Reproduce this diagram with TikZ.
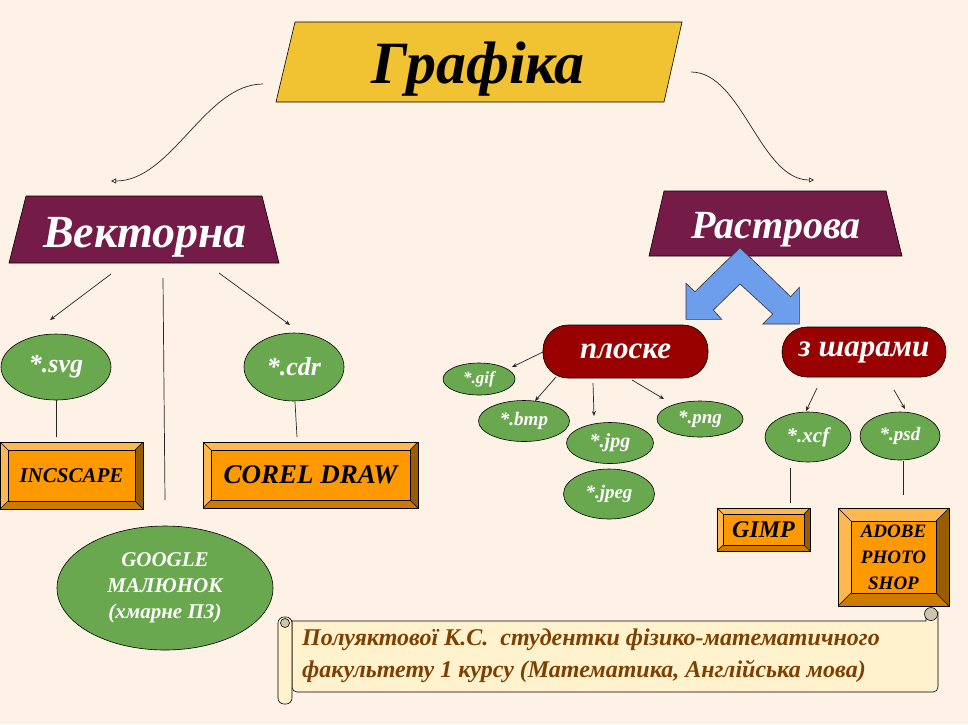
\documentclass[tikz,border=0pt]{standalone}
\usepackage{fontspec}
\setmainfont{Liberation Serif}
\usetikzlibrary{shapes.geometric,arrows.meta}
\definecolor{bg}{RGB}{254,241,229}
\definecolor{ttl}{RGB}{241,194,50}
\definecolor{plum}{RGB}{116,27,71}
\definecolor{grn}{RGB}{106,168,79}
\definecolor{dred}{RGB}{153,0,0}
\definecolor{blu}{RGB}{109,158,235}
\definecolor{orc}{RGB}{255,153,0}
\definecolor{orl}{RGB}{255,184,77}
\definecolor{orm}{RGB}{204,122,0}
\definecolor{ord}{RGB}{153,92,0}
\definecolor{scr}{RGB}{255,242,204}
\definecolor{brn}{RGB}{127,63,0}
\definecolor{curlc}{RGB}{204,196,172}

% #1 name, #2 x1, #3 y1, #4 x2, #5 y2, #6 bevel depth, #7 text, #8 font size
\newcommand{\bevelbox}[8]{%
  \fill[orl] (#2,#3) -- (#4,#3) -- ({#4-#6},{#3+#6}) -- ({#2+#6},{#3+#6}) -- cycle;
  \fill[orl] (#2,#3) -- ({#2+#6},{#3+#6}) -- ({#2+#6},{#5-#6}) -- (#2,#5) -- cycle;
  \fill[ord] (#4,#3) -- (#4,#5) -- ({#4-#6},{#5-#6}) -- ({#4-#6},{#3+#6}) -- cycle;
  \fill[orm] (#2,#5) -- (#4,#5) -- ({#4-#6},{#5-#6}) -- ({#2+#6},{#5-#6}) -- cycle;
  \node[bevin, minimum width={#4-#2-2*#6}, minimum height={#5-#3-2*#6},
        font={\bfseries\itshape\fontsize{#8}{26}\selectfont}] (#1) at ({(#2+#4)/2},{(#3+#5)/2}) {#7};
  \draw[bevline] (#2,#3) rectangle (#4,#5);
  \draw[bevline] (#2,#3) -- ({#2+#6},{#3+#6}) (#4,#3) -- ({#4-#6},{#3+#6})
                 (#4,#5) -- ({#4-#6},{#5-#6}) (#2,#5) -- ({#2+#6},{#5-#6});
}

\begin{document}
\begin{tikzpicture}[x=1pt,y=-1pt,
  shp/.style={draw=black, line width=0.6pt},
  conn/.style={draw=black!85, line width=0.7pt},
  arr/.style={conn, -{Stealth[length=5pt,width=4pt]}},
  curv/.style={conn, -{Triangle[open,length=5pt,width=5pt]}},
  ell/.style={ellipse, shp, fill=grn, text=white, inner sep=0pt,
              font={\bfseries\itshape\fontsize{#1}{26}\selectfont}, align=center},
  pill/.style={rectangle, shp, fill=dred, text=white, rounded corners=25pt, inner sep=0pt,
              font={\bfseries\itshape\fontsize{31}{36}\selectfont}},
  bevin/.style={rectangle, shp, fill=orc, inner sep=0pt, align=center},
  bevline/.style={line width=0.6pt, draw=black},
  banner/.style={inner sep=0pt, font={\bfseries\itshape\fontsize{#1}{#1}\selectfont}}
]
\fill[bg] (0,0) rectangle (968,724);
\useasboundingbox (0,0) rectangle (968,724);

% ---- title ----
\filldraw[shp, fill=ttl] (295,22) -- (682,22) -- (664,102) -- (276,102) -- cycle;
\node[banner=60, anchor=base] (title) at (478,83) {Графіка};

% ---- top level trapezoids ----
\filldraw[shp, fill=plum] (26,196) -- (262,196) -- (279,263) -- (9,263) -- cycle;
\node[banner=46, text=white, anchor=base] (vek) at (145,247) {Векторна};
\filldraw[shp, fill=plum] (664,191) -- (886,191) -- (902,256) -- (649,256) -- cycle;
\node[banner=40, text=white, anchor=base] (ras) at (776,238) {Растрова};

% curved connectors
\coordinate (tl) at (263,84);
\coordinate (tr) at (691,72);
\coordinate (vektop) at (111,181);
\coordinate (rastop) at (814,180);
\draw[curv] (tl) .. controls (205,84) and (172,181) .. (vektop);
\draw[curv] (tr) .. controls (742,72) and (760,180) .. (rastop);

% ---- blue double arrow ----
\filldraw[draw=black!80, line width=0.6pt, fill=blu]
  (740,247.7) -- (695,291.7) -- (686,283.3) -- (686,319.3) -- (721.7,319.3) -- (713.3,310)
  -- (740,284) -- (772.7,314) -- (762.7,324) -- (799.3,324) -- (799.3,287.3) -- (790.7,296.7) -- cycle;

% ---- vector branch ----
\node[ell=26, minimum width=110pt, minimum height=66pt] (svg) at (56,367) {*.svg};
\node[ell=26, minimum width=100pt, minimum height=68pt] (cdr) at (294,367) {*.cdr};
\node[ell=21, minimum width=216pt, minimum height=124pt] (goog) at (165,588)
  {GOOGLE\\МАЛЮНОК\\(хмарне ПЗ)};

\coordinate (v1) at (111,274); \coordinate (v1e) at (50,320);
\coordinate (v2) at (163,278); \coordinate (v2e) at (165,500);
\coordinate (v3) at (219,273); \coordinate (v3e) at (290,325);
\draw[arr] (v1) -- (v1e);
\draw[conn] (v2) -- (v2e);
\draw[arr] (v3) -- (v3e);

\bevelbox{inc}{0}{442}{143}{509}{8}{INCSCAPE}{21}
\bevelbox{corel}{203}{442}{418}{508}{8}{COREL DRAW}{27}

\coordinate (s1) at (56,400); \coordinate (s1e) at (56,437);
\coordinate (c1) at (295,402); \coordinate (c1e) at (297,437);
\draw[conn] (s1) -- (s1e);
\draw[conn] (c1) -- (c1e);

% ---- raster branch ----
\node[pill, minimum width=165pt, minimum height=53pt] (plo) at (625.5,351.5) {плоске};
\node[pill, minimum width=164pt, minimum height=50pt] (shar) at (864,352) {з шарами};

\node[ell=17, minimum width=72pt, minimum height=32pt] (gif) at (479,379) {*.gif};
\node[ell=19, minimum width=91pt, minimum height=41pt] (bmp) at (524,421) {*.bmp};
\node[ell=20, minimum width=87pt, minimum height=41pt] (jpg) at (610,443) {*.jpg};
\node[ell=19, minimum width=91pt, minimum height=50pt] (jpeg) at (609,494) {*.jpeg};
\node[ell=19, minimum width=86pt, minimum height=36pt] (png) at (700,419) {*.png};
\node[ell=21, minimum width=86pt, minimum height=50pt] (xcf) at (808,437) {*.xcf};
\node[ell=19, minimum width=80pt, minimum height=48pt] (psd) at (900,436) {*.psd};

\coordinate (p1) at (543,352); \coordinate (p1e) at (512,367);
\coordinate (p2) at (556,377); \coordinate (p2e) at (535,401);
\coordinate (p3) at (593,383); \coordinate (p3e) at (594,416);
\coordinate (p4) at (632,380); \coordinate (p4e) at (664,399);
\coordinate (z1) at (817,388); \coordinate (z1e) at (806,411);
\coordinate (z2) at (894,390); \coordinate (z2e) at (905,409);
\draw[arr] (p1) -- (p1e);
\draw[arr] (p2) -- (p2e);
\draw[arr] (p3) -- (p3e);
\draw[arr] (p4) -- (p4e);
\draw[arr] (z1) -- (z1e);
\draw[arr] (z2) -- (z2e);

\bevelbox{gimp}{717}{508}{810}{551}{6}{GIMP}{24}
\bevelbox{adobe}{838}{508}{949}{606}{13}{ADOBE\\PHOTO\\SHOP}{19}

\coordinate (x1) at (790,468); \coordinate (x1e) at (790,503);
\coordinate (q1) at (903,461); \coordinate (q1e) at (903,495);
\draw[conn] (x1) -- (x1e);
\draw[conn] (q1) -- (q1e);

% ---- scroll ----
\draw[shp, fill=scr] (292,621) -- (926,621) -- (926,612) -- (938,612)
  [rounded corners=5pt] -- (938,692) -- (292,692) [sharp corners] -- cycle;
\draw[shp, fill=curlc] (931,614) circle (6.5);
\draw[shp, fill=scr, rounded corners=6pt] (278,617) rectangle (292,704);
\draw[shp, fill=curlc] (285,623) circle (4.5);
\node[inner sep=0pt, anchor=west, align=left, text=brn,
      font={\bfseries\itshape\fontsize{24}{32}\selectfont}] (credit) at (302,656)
  {Полуяктової К.С.~~студентки фізико-математичного\\факультету 1 курсу (Математика, Англійська мова)};
\end{tikzpicture}
\end{document}
